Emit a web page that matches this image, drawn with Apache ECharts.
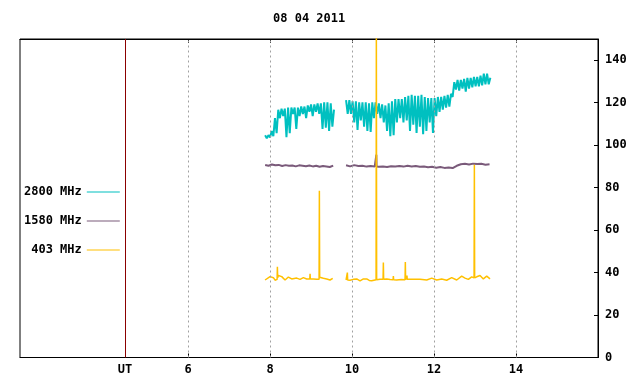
<!DOCTYPE html>
<html>
<head>
<meta charset="utf-8">
<script src="https://cdn.jsdelivr.net/npm/echarts@6/dist/echarts.min.js"></script>
<style>html,body{margin:0;padding:0;background:#fff}#c{width:640px;height:384px}</style>
</head>
<body>
<div id="c"></div>
<script>
// ---- data ----
const title = '08 04 2011';
const legendNames = ['2800 MHz', '1580 MHz', '403 MHz'];
const xTickHours = [6, 8, 10, 12, 14];
const xLabelHours = [4.46, 6, 8, 10, 12, 14];
const xLabelTexts = ['UT', '6', '8', '10', '12', '14'];
const utHour = 4.46;

// 2800 MHz, sampled every 0.04 h
const c2800Seg1Start = 7.88, c2800Seg2Start = 9.854, c2800Step = 0.04;
const c2800Seg1 = [104.7, 103.2, 104.7, 103.7, 106.7, 104.2, 112.7, 105.7, 116.7, 112.7,
  117.2, 113.7, 117.2, 103.7, 117.7, 105.7, 117.7, 114.7, 117.7, 107.7,
  117.7, 113.7, 118.2, 114.7, 118.2, 112.7, 118.7, 115.7, 119.2, 113.7,
  119.2, 115.7, 119.7, 114.7, 119.7, 107.7, 120.2, 108.2, 120.2, 106.7,
  119.7, 108.7, 116.7];
const c2800Seg2 = [121.2, 114.7, 121.2, 114.7, 120.7, 110.7, 120.7, 107.2, 120.2, 111.7,
  120.2, 108.7, 120.2, 106.7, 119.7, 106.2, 120.2, 112.7, 120.2, 114.7,
  119.7, 112.7, 119.2, 110.7, 118.7, 106.7, 119.7, 104.2, 120.7, 104.7,
  121.7, 110.7, 121.7, 112.7, 121.7, 110.7, 122.7, 111.7, 123.2, 106.7,
  123.7, 109.7, 123.2, 105.7, 123.2, 108.7, 123.7, 105.2, 122.7, 106.7,
  122.2, 110.7, 122.2, 105.7, 122.2, 113.7, 122.7, 115.7, 122.7, 116.7,
  123.2, 117.7, 123.7, 118.2, 124.2, 122.7, 129.7, 126.2, 130.7, 125.7,
  130.7, 126.7, 131.2, 125.2, 131.7, 126.7, 131.7, 127.2, 132.2, 127.7,
  132.2, 127.7, 132.7, 128.2, 133.7, 128.7, 133.7, 128.7, 131.7];

// 1580 MHz
const c1580Seg1Start = 7.88, c1580Seg1Step = 0.083;
const c1580Seg1 = [90.7, 90.3, 90.9, 90.5, 90.7, 90.2, 90.6, 90.3, 90.4, 90.0,
  90.5, 90.3, 90.1, 90.4, 90.0, 90.3, 89.8, 90.2, 90.0, 89.7, 90.4];
const c1580Seg2Start = 9.854, c1580Seg2Step = 0.1;
const c1580Seg2 = [90.5, 90.0, 90.6, 90.2, 90.3, 89.9, 90.2, 90.0, 89.8, 90.0,
  89.7, 90.1, 89.9, 90.2, 89.9, 90.3, 90.0, 90.2, 89.8, 90.0,
  89.6, 89.8, 89.4, 89.7, 89.3, 89.5, 89.2, 90.3, 91.0, 91.2,
  90.9, 91.3, 91.1, 91.2, 90.8, 91.0];
const c1580SpikeTimes = [10.588, 10.593, 10.598];
const c1580SpikeValues = [90.0, 95.5, 90.0];

// 403 MHz
const c403Seg1Times = [7.878, 7.919, 8.0, 8.041, 8.081, 8.122, 8.172, 8.179, 8.186, 8.203,
  8.285, 8.366, 8.447, 8.528, 8.65, 8.732, 8.813, 8.894, 8.969, 8.976,
  8.983, 9.057, 9.138, 9.196, 9.203, 9.21, 9.236, 9.301, 9.382, 9.463, 9.529];
const c403Seg1 = [36.5, 36.1, 38.1, 38.9, 37.6, 36.4, 36.8, 42.7, 37.6, 38.6,
  38.1, 36.5, 37.9, 37.0, 37.4, 36.8, 37.6, 37.0, 37.0, 39.4,
  37.0, 37.0, 36.8, 36.8, 78.5, 37.8, 38.1, 37.3, 37.0, 36.5, 37.3];
const c403Seg2Times = [9.854, 9.879, 9.886, 9.893, 9.951, 10.033, 10.114, 10.195, 10.277, 10.358,
  10.42, 10.48, 10.586, 10.593, 10.6, 10.683, 10.757, 10.764, 10.771, 10.846,
  10.93, 11.001, 11.008, 11.015, 11.09, 11.2, 11.293, 11.3, 11.307, 11.333,
  11.34, 11.347, 11.496, 11.659, 11.822, 11.944, 12.065, 12.187, 12.309, 12.431,
  12.553, 12.675, 12.756, 12.837, 12.919, 12.977, 12.984, 12.991, 13.041, 13.122,
  13.203, 13.285, 13.366];
const c403Seg2 = [36.5, 36.5, 40.0, 36.5, 36.4, 36.8, 37.0, 36.1, 37.0, 37.0,
  36.3, 36.1, 36.6, 160, 36.6, 36.9, 36.8, 44.7, 36.8, 37.0,
  36.7, 36.6, 38.4, 36.6, 36.5, 36.7, 36.6, 45.0, 36.6, 36.6,
  38.6, 36.8, 36.9, 36.9, 36.5, 37.4, 36.5, 37.0, 36.4, 37.6,
  36.5, 38.3, 37.4, 36.8, 38.0, 37.5, 90.8, 37.5, 38.0, 38.6,
  37.0, 38.3, 37.0];

// ---- build ----
function gridSeg(start, step, vals) {
  return vals.map((v, i) => [+(start + i * step).toFixed(4), v]);
}
function pairSeg(times, vals) { return times.map((t, i) => [t, vals[i]]); }
const gap = [[9.7, null]];

const d2800 = gridSeg(c2800Seg1Start, c2800Step, c2800Seg1)
  .concat(gap, gridSeg(c2800Seg2Start, c2800Step, c2800Seg2));
const d1580seg2 = gridSeg(c1580Seg2Start, c1580Seg2Step, c1580Seg2)
  .concat(pairSeg(c1580SpikeTimes, c1580SpikeValues))
  .sort((a, b) => a[0] - b[0]);
const d1580 = gridSeg(c1580Seg1Start, c1580Seg1Step, c1580Seg1).concat(gap, d1580seg2);
const d403 = pairSeg(c403Seg1Times, c403Seg1).concat(gap, pairSeg(c403Seg2Times, c403Seg2));

const FONT = '"DejaVu Sans Mono", "Liberation Mono", monospace';
const txt = { fontFamily: FONT, fontWeight: 'bold', fontSize: 12, color: '#000' };

const chart = echarts.init(document.getElementById('c'), null, { renderer: 'canvas' });
chart.setOption({
  animation: false,
  backgroundColor: '#fff',
  title: { text: title, left: 268, top: 8, textStyle: txt },
  legend: {
    orient: 'vertical', left: 19, top: 181, align: 'right',
    itemWidth: 33, itemHeight: 1, itemGap: 17, icon: 'rect',
    data: legendNames, selectedMode: false,
    textStyle: Object.assign({}, txt, { width: 58, align: 'right' })
  },
  grid: { left: 20, right: 42, top: 39, bottom: 26.5, show: true, borderColor: '#000', borderWidth: 1 },
  xAxis: [
    {
      type: 'value', min: 1.9, max: 16, position: 'bottom',
      axisLine: { show: true, lineStyle: { color: '#000' } },
      axisTick: { show: true, inside: true, length: 4, customValues: xTickHours, lineStyle: { color: '#000' } },
      axisLabel: Object.assign({}, txt, {
        customValues: xLabelHours, margin: 6,
        formatter: v => xLabelTexts[xLabelHours.indexOf(v)]
      }),
      splitLine: { show: false }
    },
    {
      type: 'value', min: 1.9, max: 16, position: 'top',
      axisLine: { show: true, lineStyle: { color: '#000' } },
      axisTick: { show: true, inside: true, length: 4, customValues: xTickHours, lineStyle: { color: '#000' } },
      axisLabel: { show: false },
      splitLine: { show: false }
    }
  ],
  yAxis: {
    type: 'value', position: 'right', min: 0, max: 150, interval: 20,
    axisLine: { show: true, lineStyle: { color: '#000' } },
    axisTick: { show: true, inside: true, length: 4, lineStyle: { color: '#000' } },
    axisLabel: Object.assign({}, txt, { margin: 7, showMaxLabel: false }),
    splitLine: { show: false }
  },
  series: [
    {
      name: 'grid', type: 'line', data: [], z: 1, silent: true,
      markLine: {
        silent: true, symbol: 'none', label: { show: false }, animation: false,
        lineStyle: { color: '#a0a0a0', type: [2, 3], width: 1 },
        data: xTickHours.map(h => ({ xAxis: h })).concat([
          { xAxis: utHour, lineStyle: { color: '#8b0000', type: 'solid', width: 1 } }
        ])
      }
    },
    { name: legendNames[0], type: 'line', data: d2800, showSymbol: false, symbol: 'none',
      lineStyle: { width: 2, color: '#00c0c0', join: 'bevel', cap: 'butt' }, itemStyle: { color: '#00c0c0' }, z: 2 },
    { name: legendNames[1], type: 'line', data: d1580, showSymbol: false, symbol: 'none',
      lineStyle: { width: 2, color: '#7a5a7a', join: 'bevel' }, itemStyle: { color: '#7a5a7a' }, z: 3 },
    { name: legendNames[2], type: 'line', data: d403, showSymbol: false, symbol: 'none',
      lineStyle: { width: 1.5, color: '#ffc000', join: 'bevel' }, itemStyle: { color: '#ffc000' }, z: 4 }
  ]
});
</script>
</body>
</html>
